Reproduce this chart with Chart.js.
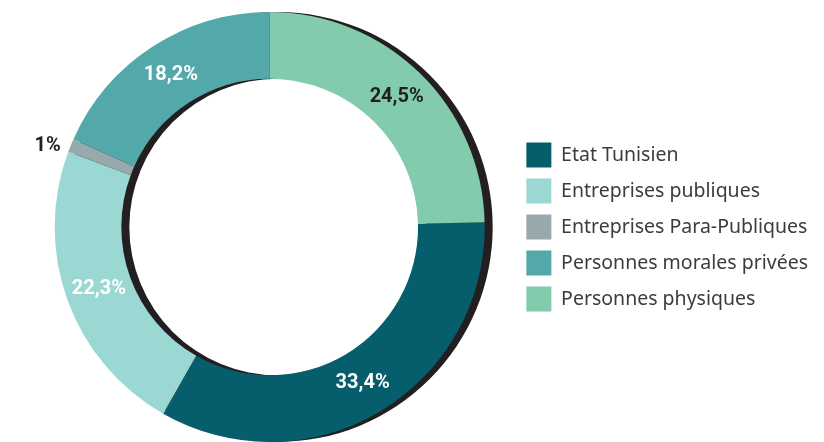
<!DOCTYPE html>
<html lang="fr">
<head>
    <meta charset="UTF-8">
    <title>Répartition du capital</title>
    <script src="https://cdn.jsdelivr.net/npm/chart.js"></script>
    <style>
        html, body { margin: 0; padding: 0; background: #ffffff; }
        .wrap { width: 824px; height: 442px; position: relative; }
    </style>
</head>
<body>
    <div class="wrap">
        <canvas id="capitalChart" width="824" height="442"></canvas>
    </div>
    <script>
        // données
        const categories = ['Etat Tunisien', 'Entreprises publiques', 'Entreprises Para-Publiques', 'Personnes morales privées', 'Personnes physiques'];
        const shares = [33.4, 22.3, 1, 18.2, 24.5];

        const sliceColors = ['#065e6c', '#9cd8d3', '#97a9ac', '#53a9aa', '#82cbac'];
        const labelColors = ['#ffffff', '#ffffff', '#231f20', '#ffffff', '#231f20'];

        // le dernier secteur (Personnes physiques) démarre à midi
        const total = shares.reduce((a, b) => a + b, 0);
        const startRotation = shares[shares.length - 1] / total * 360;

        // anneau noir décalé derrière le donut
        const ringShadow = {
            id: 'ringShadow',
            beforeDatasetsDraw(chart) {
                const arc = chart.getDatasetMeta(0).data[0];
                if (!arc) return;
                const p = arc.getProps(['x', 'y', 'innerRadius', 'outerRadius'], true);
                const ctx = chart.ctx;
                const dx = 8;
                ctx.save();
                ctx.fillStyle = '#231f20';
                ctx.beginPath();
                ctx.arc(p.x + dx, p.y, p.outerRadius, 0, Math.PI * 2);
                ctx.arc(p.x + dx, p.y, p.innerRadius, 0, Math.PI * 2, true);
                ctx.fill();
                ctx.restore();
            }
        };

        // étiquettes en pourcentage
        const sliceLabels = {
            id: 'sliceLabels',
            afterDatasetsDraw(chart) {
                const ctx = chart.ctx;
                const meta = chart.getDatasetMeta(0);
                ctx.save();
                ctx.font = 'bold 20px Roboto, "DejaVu Sans", sans-serif';
                ctx.textBaseline = 'middle';
                meta.data.forEach((arc, i) => {
                    const text = String(shares[i]).replace('.', ',') + '%';
                    ctx.fillStyle = labelColors[i];
                    if (shares[i] < 3) {
                        const p = arc.getProps(['x', 'y', 'startAngle', 'endAngle', 'outerRadius'], true);
                        const mid = (p.startAngle + p.endAngle) / 2;
                        const ox = p.x + Math.cos(mid) * p.outerRadius;
                        const oy = p.y + Math.sin(mid) * p.outerRadius;
                        ctx.textAlign = 'right';
                        ctx.fillText(text, ox - 10, oy);
                    } else {
                        const c = arc.tooltipPosition(true);
                        ctx.textAlign = 'center';
                        ctx.fillText(text, c.x, c.y);
                    }
                });
                ctx.restore();
            }
        };

        const ctx = document.getElementById('capitalChart').getContext('2d');
        new Chart(ctx, {
            type: 'doughnut',
            data: {
                labels: categories,
                datasets: [{
                    data: shares,
                    backgroundColor: sliceColors,
                    borderWidth: 0
                }]
            },
            options: {
                responsive: false,
                animation: false,
                cutout: '69%',
                rotation: startRotation,
                layout: {
                    padding: { left: 24, right: 6, top: 12, bottom: 0 }
                },
                plugins: {
                    tooltip: { enabled: false },
                    legend: {
                        position: 'right',
                        align: 'center',
                        labels: {
                            boxWidth: 25,
                            boxHeight: 25,
                            padding: 11,
                            color: '#3c3c3c',
                            font: { family: '"Noto Sans", sans-serif', size: 19.5 }
                        }
                    }
                }
            },
            plugins: [ringShadow, sliceLabels]
        });
    </script>
</body>
</html>
